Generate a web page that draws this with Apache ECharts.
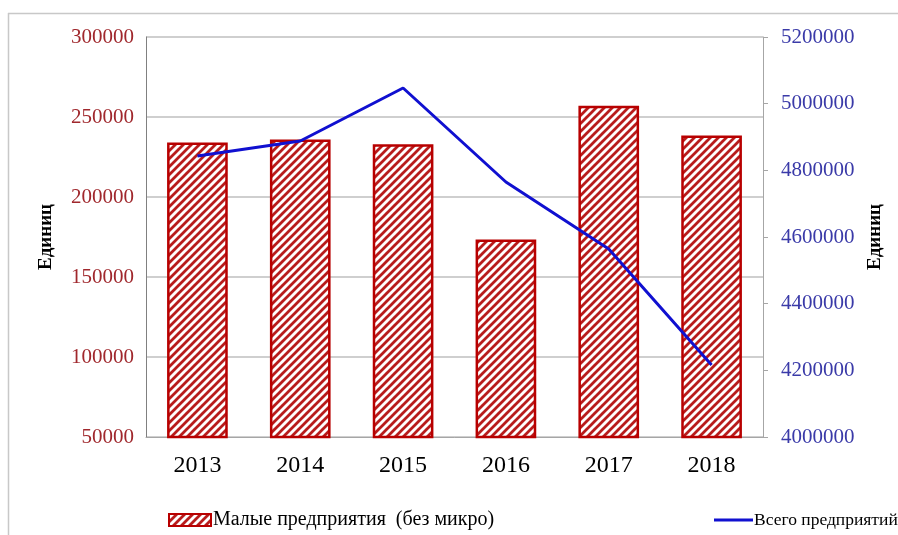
<!DOCTYPE html>
<html>
<head>
<meta charset="utf-8">
<script src="https://cdn.jsdelivr.net/npm/echarts@6/dist/echarts.min.js"></script>
<style>
html,body{margin:0;padding:0;background:#fff;}
#chart{width:898px;height:535px;}
</style>
</head>
<body>
<div id="chart"></div>
<script>
var categories = ['2013', '2014', '2015', '2016', '2017', '2018'];
var smallEnterprises = [234000, 236000, 233000, 173500, 257000, 238500];
var totalEnterprises = [4843000, 4888000, 5047000, 4765000, 4564000, 4216000];
var leftTicks = {min: 50000, max: 300000, interval: 50000};
var rightTicks = {min: 4000000, max: 5200000, interval: 200000};
var seriesNames = ['Малые предприятия  (без микро)', 'Всего предприятий'];
var axisName = 'Единиц';

function hatch() {
  var c = document.createElement('canvas');
  c.width = 8; c.height = 8;
  var ctx = c.getContext('2d');
  ctx.fillStyle = '#ffffff';
  ctx.fillRect(0, 0, 8, 8);
  ctx.strokeStyle = '#b81c1c';
  ctx.lineWidth = 2.8;
  ctx.beginPath();
  ctx.moveTo(-2, 10); ctx.lineTo(10, -2);
  ctx.moveTo(-2, 2); ctx.lineTo(2, -2);
  ctx.moveTo(6, 10); ctx.lineTo(10, 6);
  ctx.stroke();
  return c;
}

var chart = echarts.init(document.getElementById('chart'));
var serif = 'Liberation Serif';
chart.setOption({
  animation: false,
  backgroundColor: '#ffffff',
  textStyle: {fontFamily: serif},
  graphic: [
    {type: 'line', shape: {x1: 8, y1: 13.5, x2: 898, y2: 13.5}, style: {stroke: '#c8c8c8', lineWidth: 1.5}},
    {type: 'line', shape: {x1: 8.5, y1: 13, x2: 8.5, y2: 535}, style: {stroke: '#c8c8c8', lineWidth: 1.5}}
  ],
  grid: {left: 146, right: 135, top: 37, bottom: 98, containLabel: false},
  legend: [
    {
      data: [{name: seriesNames[0], icon: 'rect'}],
      left: 163, top: 505,
      itemWidth: 42, itemHeight: 12, itemGap: 2,
      textStyle: {fontFamily: serif, fontSize: 20, color: '#000', padding: [0, 0, 0, -3]}
    },
    {
      data: [{name: seriesNames[1], icon: 'rect', itemStyle: {color: '#1010d0'}}],
      left: 709, top: 506,
      itemWidth: 39, itemHeight: 3,
      textStyle: {fontFamily: serif, fontSize: 17.5, color: '#000', padding: [0, 0, 0, -4]}
    }
  ],
  xAxis: {
    type: 'category',
    data: categories,
    axisLine: {lineStyle: {color: '#a6a6a6', width: 1}},
    axisTick: {show: false},
    axisLabel: {color: '#000', fontSize: 24, fontFamily: serif, margin: 17}
  },
  yAxis: [
    {
      type: 'value',
      min: leftTicks.min, max: leftTicks.max, interval: leftTicks.interval,
      name: axisName,
      nameLocation: 'middle',
      nameRotate: 90,
      nameGap: 90,
      nameTextStyle: {fontFamily: serif, fontSize: 19, fontWeight: 'bold', color: '#000'},
      axisLine: {show: true, lineStyle: {color: '#808080', width: 1}},
      axisTick: {show: false},
      axisLabel: {color: '#a0282d', fontSize: 21, fontFamily: serif, margin: 12, formatter: function (v) { return String(v); }},
      splitLine: {lineStyle: {color: '#bfbfbf', width: 1.5}}
    },
    {
      type: 'value',
      position: 'right',
      min: rightTicks.min, max: rightTicks.max, interval: rightTicks.interval,
      name: axisName,
      nameLocation: 'middle',
      nameRotate: 90,
      nameGap: 101,
      nameTextStyle: {fontFamily: serif, fontSize: 19, fontWeight: 'bold', color: '#000'},
      axisLine: {show: true, lineStyle: {color: '#a6a6a6', width: 1}},
      axisTick: {show: true, length: 5, lineStyle: {color: '#a6a6a6'}},
      axisLabel: {color: '#3a3aa8', fontSize: 21, fontFamily: serif, margin: 18, formatter: function (v) { return String(v); }},
      splitLine: {show: false}
    }
  ],
  series: [
    {
      name: seriesNames[0],
      type: 'bar',
      yAxisIndex: 0,
      data: smallEnterprises,
      barWidth: '59%',
      itemStyle: {
        color: {image: hatch(), repeat: 'repeat'},
        borderColor: '#b80000',
        borderWidth: 2.5
      }
    },
    {
      name: seriesNames[1],
      type: 'line',
      yAxisIndex: 1,
      data: totalEnterprises,
      symbol: 'none',
      lineStyle: {color: '#1010d0', width: 3},
      itemStyle: {color: '#1010d0'}
    }
  ]
});
</script>
</body>
</html>
